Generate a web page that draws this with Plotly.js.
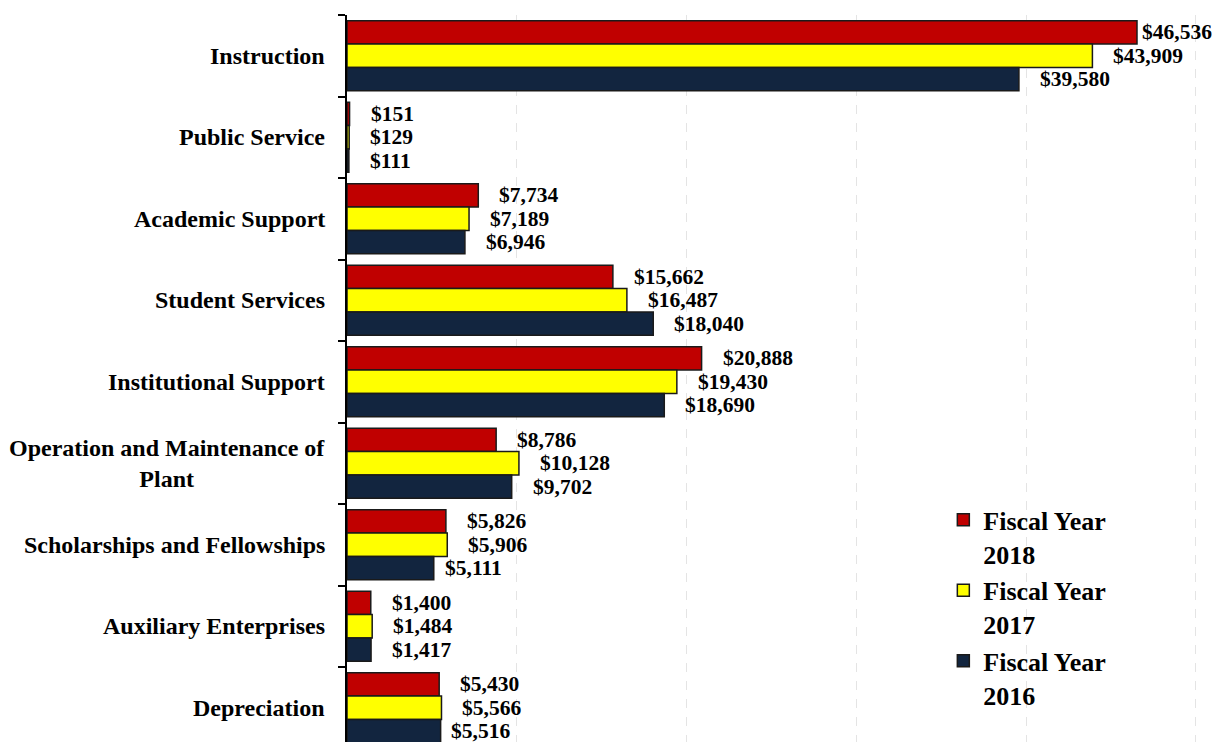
<!DOCTYPE html>
<html>
<head>
<meta charset="utf-8">
<script src="https://cdn.plot.ly/plotly-3.0.1.min.js"></script>
<style>
  html, body { margin: 0; padding: 0; background: #ffffff; overflow: hidden; }
  #chart { width: 1215px; height: 742px; }
</style>
</head>
<body>
<div id="chart"></div>
<script>
// ---- data ----
const categories = [
  'Instruction',
  'Public Service',
  'Academic Support',
  'Student Services',
  'Institutional Support',
  'Operation and Maintenance of Plant',
  'Scholarships and Fellowships',
  'Auxiliary Enterprises',
  'Depreciation'
];
const fy2018 = [46536, 151, 7734, 15662, 20888, 8786, 5826, 1400, 5430];
const fy2017 = [43909, 129, 7189, 16487, 19430, 10128, 5906, 1484, 5566];
const fy2016 = [39580, 111, 6946, 18040, 18690, 9702, 5111, 1417, 5516];
const seriesNames = ['Fiscal Year 2018', 'Fiscal Year 2017', 'Fiscal Year 2016'];

// ---- style ----
const colors = ['#C00000', '#FFFF00', '#12253F'];
const serif = 'Liberation Serif, Times New Roman, serif';
const bargap = 0.14;
const baseShift = 19;
const shiftOverride = { '0,0': 3, '2,6': 9, '2,8': 8 };

const series = [fy2018, fy2017, fy2016];

const traces = series.map((vals, k) => ({
  type: 'bar',
  orientation: 'h',
  name: seriesNames[k].replace(/ (\d{4})$/, '<br>$1'),
  y: categories,
  x: vals,
  marker: { color: colors[k], line: { color: '#1a1a1a', width: 1.5 } },
  hoverinfo: 'skip'
}));

const annotations = [];
// category labels (centered multi-line, right anchored at axis)
categories.forEach((c, i) => {
  annotations.push({
    xref: 'paper', yref: 'y', x: 0, y: c,
    xanchor: 'right', yanchor: 'middle', xshift: -20,
    align: 'center', showarrow: false,
    text: c.replace('Maintenance of Plant', 'Maintenance of<br>Plant'),
    font: { family: serif, size: 24, color: '#000', weight: 'bold' }
  });
});
// value labels
const bw = (1 - bargap) / 3;
series.forEach((vals, k) => {
  vals.forEach((v, i) => {
    const key = k + ',' + i;
    annotations.push({
      xref: 'x', yref: 'y', x: v, y: i + (k - 1) * bw,
      xanchor: 'left', yanchor: 'middle',
      xshift: (key in shiftOverride) ? shiftOverride[key] : baseShift,
      showarrow: false,
      text: '$' + v.toLocaleString('en-US'),
      font: { family: serif, size: 21.5, color: '#000', weight: 'bold' }
    });
  });
});

const layout = {
  width: 1215, height: 742,
  margin: { l: 347, r: 5, t: 15, b: 0, pad: 0 },
  paper_bgcolor: '#ffffff', plot_bgcolor: '#ffffff',
  barmode: 'group', bargap: bargap, bargroupgap: 0,
  showlegend: true,
  xaxis: {
    range: [0, 50836], autorange: false,
    dtick: 10000, tick0: 0,
    showgrid: true, gridcolor: '#e4e4e4', gridwidth: 1, griddash: 'dash',
    zeroline: false, showline: false, showticklabels: false, ticks: ''
  },
  yaxis: {
    type: 'category', categoryorder: 'array', categoryarray: categories,
    range: [8.42, -0.5], autorange: false,
    showgrid: false, zeroline: false,
    showline: true, linecolor: '#000', linewidth: 2,
    ticks: 'outside', tickson: 'boundaries', ticklen: 7, tickwidth: 2, tickcolor: '#000',
    showticklabels: false
  },
  legend: {
    x: 0.691, y: 0.338, xanchor: 'left', yanchor: 'top',
    bgcolor: 'rgba(0,0,0,0)', borderwidth: 0,
    valign: 'top', itemwidth: 30, tracegroupgap: 0,
    font: { family: serif, size: 26, color: '#000', weight: 'bold' }
  },
  annotations: annotations
};

Plotly.newPlot('chart', traces, layout, { displayModeBar: false, staticPlot: true });
</script>
</body>
</html>
